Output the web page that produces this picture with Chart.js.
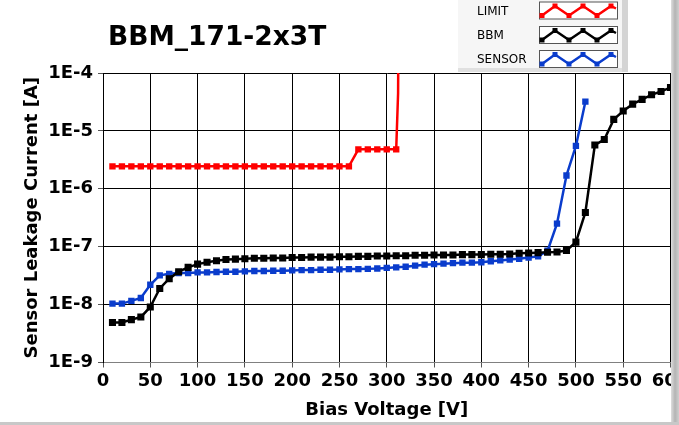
<!DOCTYPE html>
<html><head><meta charset="utf-8">
<script src="https://cdn.jsdelivr.net/npm/chart.js@4.4.1/dist/chart.umd.min.js"></script>
<style>html,body{margin:0;padding:0;background:#fff;overflow:hidden}canvas{display:block}</style>
</head><body>
<canvas id="c" width="679" height="425"></canvas>
<script>
const chartTitle = 'BBM_171-2x3T';
const seriesNames = ['LIMIT', 'BBM', 'SENSOR'];
const seriesColors = ['#ff0000', '#000000', '#0a3ccc'];
const xTitle = 'Bias Voltage [V]';
const yTitle = 'Sensor Leakage Current [A]';
const yTicks = [1e-9, 1e-8, 1e-7, 1e-6, 1e-5, 1e-4];
const yTickLabels = ['1E-9', '1E-8', '1E-7', '1E-6', '1E-5', '1E-4'];

const limitVoltage = [10,20,30,40,50,60,70,80,90,100,110,120,130,140,150,160,170,180,190,200,210,220,230,240,250,260,270,280,290,300,310,312,313];
const limitCurrent = [2.44e-6,2.44e-6,2.44e-6,2.44e-6,2.44e-6,2.44e-6,2.44e-6,2.44e-6,2.44e-6,2.44e-6,2.44e-6,2.44e-6,2.44e-6,2.44e-6,2.44e-6,2.44e-6,2.44e-6,2.44e-6,2.44e-6,2.44e-6,2.44e-6,2.44e-6,2.44e-6,2.44e-6,2.44e-6,2.44e-6,4.8e-6,4.8e-6,4.8e-6,4.8e-6,4.8e-6,4.5e-5,1e-1];

const bbmVoltage = [10,20,30,40,50,60,70,80,90,100,110,120,130,140,150,160,170,180,190,200,210,220,230,240,250,260,270,280,290,300,310,320,330,340,350,360,370,380,390,400,410,420,430,440,450,460,470,480,490,500,510,520,530,540,550,560,570,580,590,600];
const bbmCurrent = [4.9e-9,4.9e-9,5.5e-9,6.1e-9,9.1e-9,1.9e-8,2.8e-8,3.7e-8,4.4e-8,5.0e-8,5.4e-8,5.7e-8,6.0e-8,6.1e-8,6.2e-8,6.3e-8,6.3e-8,6.4e-8,6.4e-8,6.5e-8,6.5e-8,6.6e-8,6.6e-8,6.6e-8,6.7e-8,6.7e-8,6.8e-8,6.8e-8,6.9e-8,6.9e-8,7.0e-8,7.0e-8,7.1e-8,7.1e-8,7.2e-8,7.2e-8,7.2e-8,7.3e-8,7.3e-8,7.3e-8,7.4e-8,7.4e-8,7.5e-8,7.7e-8,7.8e-8,7.9e-8,8.0e-8,8.1e-8,8.6e-8,1.2e-7,3.9e-7,5.7e-6,7.1e-6,1.58e-5,2.2e-5,2.9e-5,3.5e-5,4.2e-5,4.8e-5,5.6e-5];

const sensorVoltage = [10,20,30,40,50,60,70,80,90,100,110,120,130,140,150,160,170,180,190,200,210,220,230,240,250,260,270,280,290,300,310,320,330,340,350,360,370,380,390,400,410,420,430,440,450,460,470,480,490,500,510];
const sensorCurrent = [1.04e-8,1.04e-8,1.16e-8,1.3e-8,2.2e-8,3.2e-8,3.4e-8,3.5e-8,3.5e-8,3.6e-8,3.6e-8,3.65e-8,3.7e-8,3.7e-8,3.75e-8,3.8e-8,3.8e-8,3.85e-8,3.85e-8,3.9e-8,3.95e-8,3.95e-8,4.0e-8,4.0e-8,4.05e-8,4.1e-8,4.1e-8,4.15e-8,4.2e-8,4.3e-8,4.4e-8,4.5e-8,4.7e-8,4.9e-8,5.0e-8,5.1e-8,5.2e-8,5.3e-8,5.3e-8,5.4e-8,5.6e-8,5.8e-8,6.0e-8,6.2e-8,6.5e-8,6.8e-8,8.5e-8,2.5e-7,1.7e-6,5.5e-6,3.2e-5];

const toPoints = (xs, ys) => xs.map((x, i) => ({x: x, y: ys[i]}));

Chart.defaults.font.family = "'DejaVu Sans', Verdana, sans-serif";
Chart.defaults.color = '#000';

const decorPlugin = {
  id: 'decor',
  afterDraw(chart) {
    const ctx = chart.ctx;
    ctx.save();
    // title
    ctx.fillStyle = '#000';
    ctx.font = "bold 26.5px 'DejaVu Sans'";
    ctx.textBaseline = 'alphabetic';
    ctx.textAlign = 'left';
    ctx.fillText(chartTitle, 108, 45);
    // legend panel
    ctx.fillStyle = '#f6f6f6';
    ctx.fillRect(458, 0, 164, 68);
    ctx.fillStyle = '#d4d4d4';
    ctx.fillRect(622, 0, 6, 72);
    ctx.fillStyle = '#e0e0e0';
    ctx.fillRect(458, 68, 164, 4);
    const ds = chart.data.datasets;
    const rows = [10.5, 35, 59];
    ds.forEach((d, i) => {
      const cy = rows[i];
      ctx.fillStyle = '#000';
      ctx.font = "12px 'DejaVu Sans'";
      ctx.textBaseline = 'middle';
      ctx.fillText(d.label, 477, cy + 1);
      const bx = 539.5, by = cy - 8.5, bw = 78, bh = 17;
      ctx.fillStyle = '#fff';
      ctx.fillRect(bx, by, bw, bh);
      ctx.strokeStyle = '#555';
      ctx.lineWidth = 1;
      ctx.strokeRect(bx, by, bw, bh);
      const top = by + 4, bot = by + 13.5;
      const pts = [[bx+2.5,bot],[bx+15.5,top],[bx+29.5,bot],[bx+43.5,top],[bx+57.5,bot],[bx+71.5,top],[bx+76.5,top+2.5]];
      ctx.strokeStyle = d.borderColor;
      ctx.lineWidth = 2.5;
      ctx.beginPath();
      pts.forEach((p, k) => k ? ctx.lineTo(p[0], p[1]) : ctx.moveTo(p[0], p[1]));
      ctx.stroke();
      ctx.fillStyle = d.borderColor;
      pts.slice(0, 6).forEach(p => ctx.fillRect(p[0] - 2.5, p[1] - 2.5, 5, 5));
    });
    // window frame
    const g = ctx.createLinearGradient(671, 0, 679, 0);
    g.addColorStop(0, '#dedede');
    g.addColorStop(0.5, '#b4b4b4');
    g.addColorStop(1, '#cfcfcf');
    ctx.fillStyle = g;
    ctx.fillRect(671, 0, 8, 425);
    ctx.fillStyle = '#c8c8c8';
    ctx.fillRect(0, 422, 679, 3);
    ctx.restore();
  }
};

new Chart(document.getElementById('c'), {
  type: 'line',
  data: {
    datasets: [
      {label: seriesNames[0], data: toPoints(limitVoltage, limitCurrent), borderColor: seriesColors[0], backgroundColor: seriesColors[0], borderWidth: 2.5, pointStyle: 'rect', pointRadius: c => (c.raw && c.raw.x > 310) ? 0 : 4.5, pointBorderWidth: 0},
      {label: seriesNames[1], data: toPoints(bbmVoltage, bbmCurrent), borderColor: seriesColors[1], backgroundColor: seriesColors[1], borderWidth: 2.5, pointStyle: 'rect', pointRadius: 5, pointBorderWidth: 0},
      {label: seriesNames[2], data: toPoints(sensorVoltage, sensorCurrent), borderColor: seriesColors[2], backgroundColor: seriesColors[2], borderWidth: 2.5, pointStyle: 'rect', pointRadius: 4.5, pointBorderWidth: 0}
    ]
  },
  options: {
    responsive: false,
    animation: false,
    devicePixelRatio: 1,
    parsing: false,
    layout: {padding: {left: 0, top: 73, right: 8.5, bottom: 0}},
    plugins: {legend: {display: false}, tooltip: {enabled: false}, title: {display: false}},
    elements: {line: {tension: 0}},
    scales: {
      x: {
        type: 'linear', min: 0, max: 600,
        afterFit: s => { s.height = 62.5; s.paddingLeft = 0; s.paddingRight = 0; },
        ticks: {stepSize: 50, color: '#000', font: {size: 18, weight: 'bold'}, padding: 3, maxRotation: 0, autoSkip: false},
        grid: {color: '#000', lineWidth: 1, tickLength: 5, tickColor: '#555'},
        border: {color: '#808080', width: 1},
        title: {display: true, text: xTitle, color: '#000', font: {size: 18, weight: 'bold'}, padding: {top: 0, bottom: 4}}
      },
      y: {
        type: 'logarithmic', min: yTicks[0], max: yTicks[yTicks.length - 1],
        afterBuildTicks: s => { s.ticks = yTicks.map(v => ({value: v})); },
        afterFit: s => { s.width = 103; },
        ticks: {color: '#000', font: {size: 18, weight: 'bold'}, padding: 5, autoSkip: false,
          callback: v => { const i = yTicks.findIndex(t => Math.abs(Math.log10(t) - Math.log10(v)) < 0.01); return i >= 0 ? yTickLabels[i] : ''; }},
        grid: {color: '#000', lineWidth: 1, tickLength: 5, tickColor: '#555'},
        border: {color: '#000', width: 1},
        title: {display: true, text: yTitle, color: '#000', font: {size: 18, weight: 'bold'}, padding: {top: 22, bottom: 0}}
      }
    }
  },
  plugins: [decorPlugin]
});
</script>
</body></html>
